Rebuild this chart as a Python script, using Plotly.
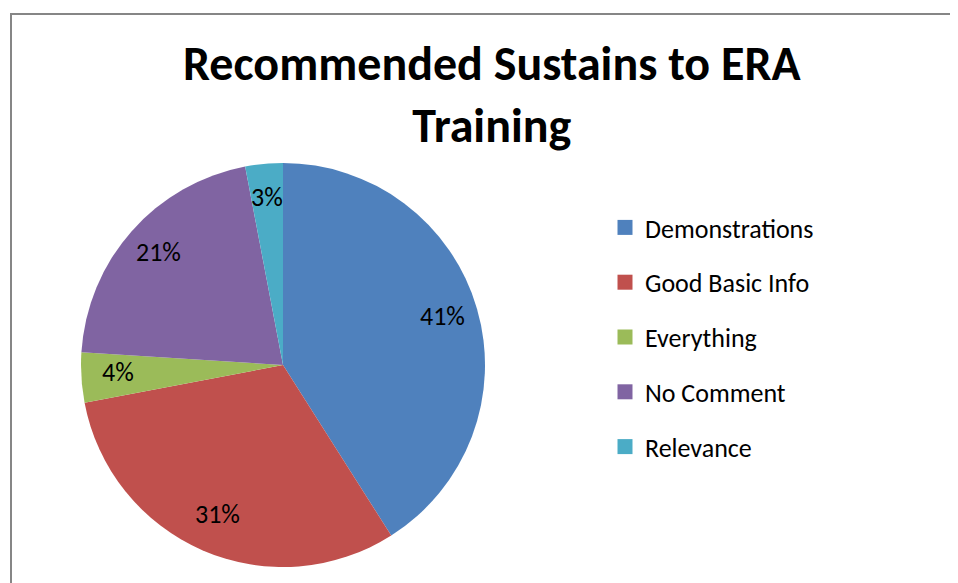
import math
import plotly.graph_objects as go

categories = ["Demonstrations", "Good Basic Info", "Everything", "No Comment", "Relevance"]
values = [41, 31, 4, 21, 3]
colors = ["#4F81BD", "#C0504D", "#9BBB59", "#8064A2", "#4BACC6"]
title_text = "Recommended Sustains to ERA<br>Training"

OFF = 8  # page body margin
W, H = 958 - OFF, 583 - OFF
FONT = "Calibri, Carlito, Lato, sans-serif"


def px(x):
    return (x - OFF) / W


def py(y):
    return 1 - (y - OFF) / H


# pie geometry (screen pixels)
CX, CY, R = 283, 365, 202
LABEL_R = 0.82

fig = go.Figure()

fig.add_trace(go.Pie(
    labels=categories,
    values=values,
    sort=False,
    direction="clockwise",
    rotation=0,
    marker=dict(colors=colors, line=dict(width=0)),
    textinfo="none",
    domain=dict(x=[px(CX - R), px(CX + R)], y=[py(CY + R), py(CY - R)]),
    showlegend=False,
    hoverinfo="label+percent",
))

# percent labels placed at mid-angle of each slice
total = sum(values)
annotations = []
cum = 0
for v in values:
    mid = (cum + v / 2) / total * 2 * math.pi
    cum += v
    lx = CX + LABEL_R * R * math.sin(mid)
    ly = CY - LABEL_R * R * math.cos(mid) - 3
    annotations.append(dict(
        x=px(lx), y=py(ly), xref="paper", yref="paper",
        text=f"{round(v / total * 100)}%", showarrow=False,
        xanchor="center", yanchor="middle",
        font=dict(family=FONT, size=26, color="#000000"),
    ))

annotations.append(dict(
    x=px(492), y=py(32), xref="paper", yref="paper",
    text=title_text, showarrow=False, xanchor="center", yanchor="top",
    font=dict(family=FONT, size=48, color="#000000", weight="bold"),
))

for name, col in zip(categories, colors):
    fig.add_trace(go.Scatter(
        x=[None], y=[None], mode="markers", name=name,
        legendgroup=name,
        marker=dict(symbol="square", size=15, color=col),
    ))

fig.update_layout(
    width=W, height=H,
    margin=dict(l=0, r=0, t=0, b=0),
    paper_bgcolor="white",
    plot_bgcolor="white",
    xaxis=dict(visible=False),
    yaxis=dict(visible=False),
    annotations=annotations,
    legend=dict(
        x=px(605), xanchor="left",
        y=py(337), yanchor="middle",
        font=dict(family=FONT, size=26, color="#000000"),
        tracegroupgap=18,
        bgcolor="rgba(0,0,0,0)",
        traceorder="grouped",
    ),
    shapes=[dict(
        type="rect", xref="paper", yref="paper",
        x0=px(11), x1=1.05, y0=-0.05, y1=py(14),
        line=dict(color="#868686", width=2),
        fillcolor="rgba(0,0,0,0)", layer="below",
    )],
)

fig.write_html("out.html")
